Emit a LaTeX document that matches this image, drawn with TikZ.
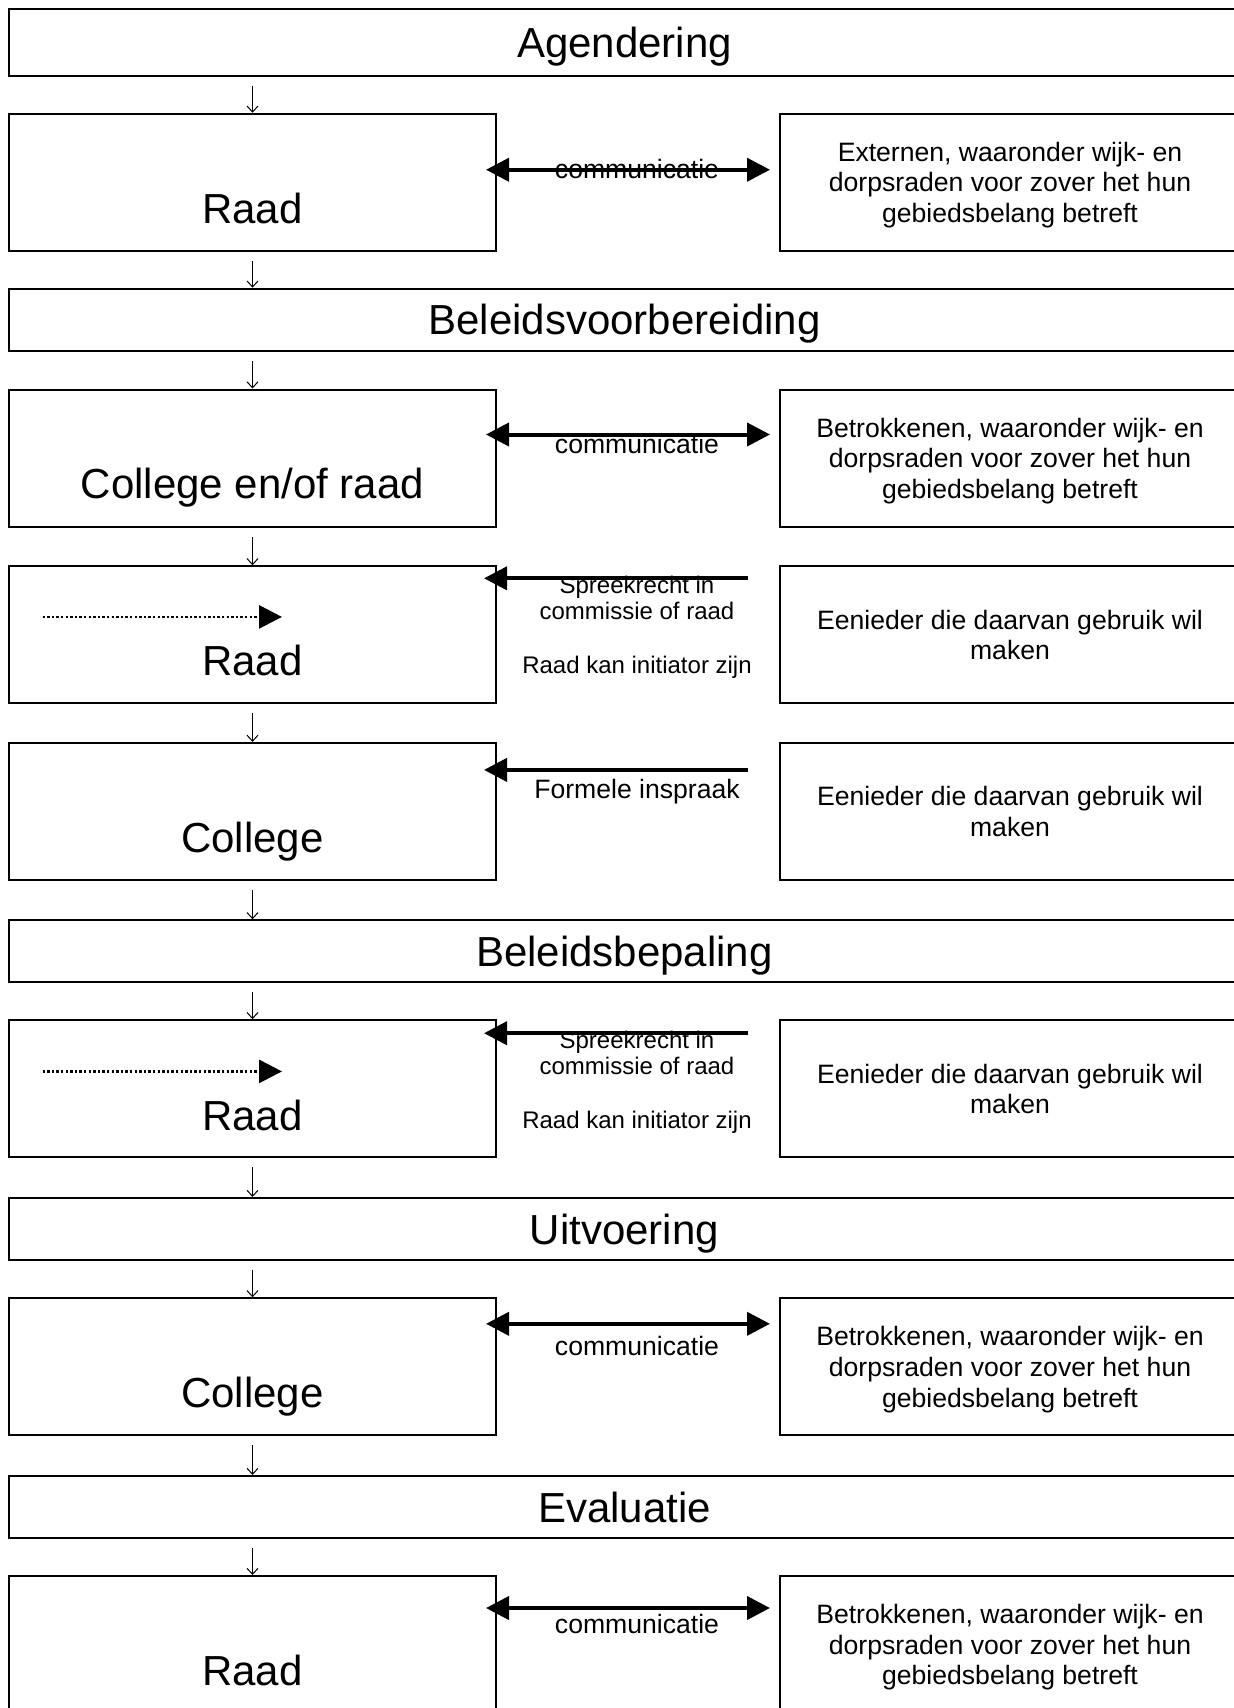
\documentclass[tikz,border=0pt]{standalone}
\usepackage{fontspec}
\setmainfont{Liberation Sans}
\usepackage{tikz}
\usetikzlibrary{arrows.meta}
\usetikzlibrary{positioning}

\begin{document}
\begin{tikzpicture}[x=0.5pt,y=-0.5pt,every node/.style={inner sep=0pt},
	kop/.style={draw,line width=1pt,minimum width=615.5pt,minimum height=31pt,text depth=0pt,font=\fontsize{21}{25}\selectfont},
	links/.style={draw,line width=1pt,minimum width=243.5pt,minimum height=68.5pt},
	rechts/.style={draw,line width=1pt,minimum width=230.5pt,minimum height=68.5pt,text depth=0pt,align=center,font=\fontsize{13.3}{15.3}\selectfont},
	groot/.style={anchor=base,font=\fontsize{21}{25}\selectfont},
	klein/.style={align=center,font=\fontsize{12}{13.4}\selectfont},
	middel/.style={font=\fontsize{13.3}{15.3}\selectfont},
	pijl/.style={line width=0.5pt,-{Straight Barb[length=3pt,width=5.5pt]},shorten <=4.5pt},
	dik/.style={line width=2pt,-{Triangle[length=11.5pt,width=11.5pt]}},
	dubbel/.style={line width=2pt,{Triangle[length=11.5pt,width=11.5pt]}-{Triangle[length=11.5pt,width=11.5pt]}},
	stip/.style={line width=1.4pt,dash pattern=on 1.2pt off 1.1pt,-{Triangle[length=11.5pt,width=11.5pt]}}]
				\useasboundingbox (0,0) rectangle (1234,1708);
				\clip (0,0) rectangle (1234,1708);
				\node[kop,minimum height=33.5pt] (h1) at (624.5,42.75) {Agendering};
				\node[links] (l1) at (252.5,182.25) {};
				\node[rechts] (r1) at (1010,182.25) {Externen, waaronder wijk- en\\dorpsraden voor zover het hun\\gebiedsbelang betreft};
				\node[groot] (t1) at (252.5,223.5) {Raad};
				\node[middel] (c1) at (637,169) {communicatie};
				\node[kop] (h2) at (624.5,319.7) {Beleidsvoorbereiding};
				\node[links] (l2) at (252.5,458) {};
				\node[rechts] (r2) at (1010,458) {Betrokkenen, waaronder wijk- en\\dorpsraden voor zover het hun\\gebiedsbelang betreft};
				\node[groot] (t2) at (252.5,498.3) {College en/of raad};
				\node[middel] (c2) at (637,444) {communicatie};
				\node[links] (l3) at (252.5,634.8) {};
				\node[rechts] (r3) at (1010,634.8) {Eenieder die daarvan gebruik wil\\maken};
				\node[groot] (t3) at (252.5,675.5) {Raad};
				\node[klein] (s3) at (637,627) {Spreekrecht in\\commissie of raad\\[13.4pt]Raad kan initiator zijn};
				\node[links] (l4) at (252.5,811.4) {};
				\node[rechts] (r4) at (1010,811.4) {Eenieder die daarvan gebruik wil\\maken};
				\node[groot] (t4) at (252.5,852.3) {College};
				\node[middel] (f4) at (637,792) {Formele inspraak};
				\node[kop] (h3) at (624.5,951.3) {Beleidsbepaling};
				\node[links] (l5) at (252.5,1088.7) {};
				\node[rechts] (r5) at (1010,1088.7) {Eenieder die daarvan gebruik wil\\maken};
				\node[groot] (t5) at (252.5,1130.1) {Raad};
				\node[klein] (s5) at (637,1082) {Spreekrecht in\\commissie of raad\\[13.4pt]Raad kan initiator zijn};
				\node[kop] (h4) at (624.5,1229) {Uitvoering};
				\node[links] (l6) at (252.5,1366.8) {};
				\node[rechts] (r6) at (1010,1366.8) {Betrokkenen, waaronder wijk- en\\dorpsraden voor zover het hun\\gebiedsbelang betreft};
				\node[groot] (t6) at (252.5,1407.5) {College};
				\node[middel] (c6) at (637,1346) {communicatie};
				\node[kop] (h5) at (624.5,1507) {Evaluatie};
				\node[links] (l7) at (252.5,1644.5) {};
				\node[rechts] (r7) at (1010,1644.5) {Betrokkenen, waaronder wijk- en\\dorpsraden voor zover het hun\\gebiedsbelang betreft};
				\node[groot] (t7) at (252.5,1685.5) {Raad};
				\node[middel] (c7) at (637,1624) {communicatie};
				\draw[pijl] (h1.south -| l1.north) -- (l1.north);
				\draw[pijl] (l1.south) -- (l1.south |- h2.north);
				\draw[pijl] (h2.south -| l2.north) -- (l2.north);
				\draw[pijl] (l2.south) -- (l3.north);
				\draw[pijl] (l3.south) -- (l4.north);
				\draw[pijl] (l4.south) -- (l4.south |- h3.north);
				\draw[pijl] (h3.south -| l5.north) -- (l5.north);
				\draw[pijl] (l5.south) -- (l5.south |- h4.north);
				\draw[pijl] (h4.south -| l6.north) -- (l6.north);
				\draw[pijl] (l6.south) -- (l6.south |- h5.north);
				\draw[pijl] (h5.south -| l7.north) -- (l7.north);
				\draw[dubbel] ([xshift=-5.5pt,yshift=-28.5pt]l1.north east) -- ([xshift=-4.25pt,yshift=-28.5pt]r1.north west);
				\draw[dubbel] ([xshift=-5.5pt,yshift=-23pt]l2.north east) -- ([xshift=-4.25pt,yshift=-23pt]r2.north west);
				\draw[dik] ([xshift=-15.25pt,yshift=-6.5pt]r3.north west) -- ([xshift=-6.5pt,yshift=-6.5pt]l3.north east);
				\draw[dik] ([xshift=-15.25pt,yshift=-14pt]r4.north west) -- ([xshift=-6.5pt,yshift=-14pt]l4.north east);
				\draw[dik] ([xshift=-15.25pt,yshift=-7pt]r5.north west) -- ([xshift=-6.5pt,yshift=-7pt]l5.north east);
				\draw[dubbel] ([xshift=-5.5pt,yshift=-13.25pt]l6.north east) -- ([xshift=-4.25pt,yshift=-13.25pt]r6.north west);
				\draw[dubbel] ([xshift=-5.5pt,yshift=-16.5pt]l7.north east) -- ([xshift=-4.25pt,yshift=-16.5pt]r7.north west);
				\draw[stip] ([xshift=17.3pt,yshift=-25.8pt]l3.north west) -- ([xshift=137pt,yshift=-25.8pt]l3.north west);
				\draw[stip] ([xshift=17.3pt,yshift=-26.1pt]l5.north west) -- ([xshift=137pt,yshift=-26.1pt]l5.north west);
			\end{tikzpicture}
\end{document}
